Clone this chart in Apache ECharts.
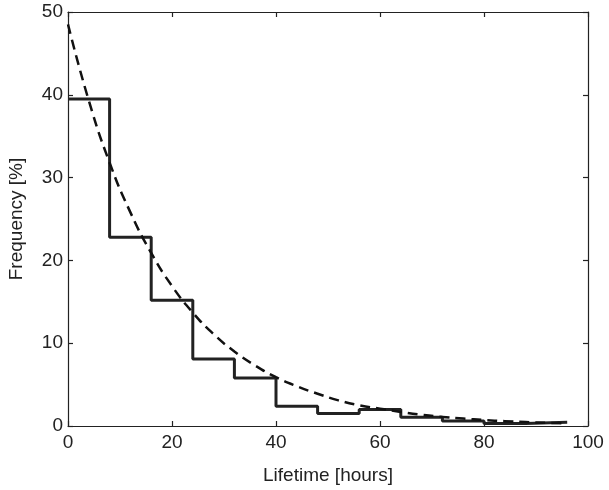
<!DOCTYPE html>
<html style="height: 100%">
<head>
<meta charset="UTF-8">
<script type="text/javascript" src="https://cdn.jsdelivr.net/npm/echarts@6/dist/echarts.min.js"></script>
<title>Lifetime histogram</title>
<style>
  html, body { margin: 0; padding: 0; background: #fff; }
  #chart { width: 609px; height: 490px; }
</style>
</head>
<body>
<div id="chart"></div>
<script type="text/javascript">
// bin edges (hours) and histogram heights (%)
var binEdges = [0, 8, 16, 24, 32, 40, 48, 56, 64, 72, 80, 88, 96];
var binFreq = [39.5, 22.8, 15.2, 8.1, 5.8, 2.4, 1.5, 2.0, 1.05, 0.6, 0.3, 0.45];
// dashed fit curve
var fitX = [0, 4, 8, 12, 16, 20, 24, 28, 32, 36, 40, 44, 48, 52, 56, 60, 64, 68, 72, 76, 80, 84, 88, 92, 96];
var fitY = [48.5, 39.3, 31.8, 25.8, 20.9, 16.9, 13.7, 11.1, 9.0, 7.3, 5.9, 4.8, 3.9, 3.1, 2.5, 2.1, 1.7, 1.35, 1.1, 0.9, 0.72, 0.58, 0.47, 0.38, 0.31];
var xTicks = [0, 20, 40, 60, 80, 100];
var yTicks = [0, 10, 20, 30, 40, 50];

var stepData = [];
for (var i = 0; i < binFreq.length; i++) {
    stepData.push([binEdges[i], binFreq[i]]);
}
stepData.push([binEdges[binEdges.length - 1], binFreq[binFreq.length - 1]]);

var fitData = [];
for (var j = 0; j < fitX.length; j++) {
    fitData.push([fitX[j], fitY[j]]);
}

var font = 'Liberation Sans, Arial, sans-serif';
var lineStyle = { color: '#222', width: 1.2 };

var myChart = echarts.init(document.getElementById('chart'));
var option = {
    animation: false,
    grid: { left: 68, right: 21, top: 12, bottom: 64, show: false, containLabel: false, outerBoundsMode: 'none' },
    xAxis: [{
        type: 'value', position: 'bottom',
        min: xTicks[0], max: xTicks[xTicks.length - 1], interval: 20,
        name: 'Lifetime [hours]', nameLocation: 'middle', nameGap: 40,
        nameTextStyle: { fontFamily: font, fontSize: 19, color: '#222' },
        axisLine: { show: true, onZero: false, lineStyle: lineStyle },
        axisTick: { show: true, inside: true, length: 5, lineStyle: lineStyle },
        axisLabel: { fontFamily: font, fontSize: 19, color: '#222', margin: 7 },
        splitLine: { show: false }
    }, {
        type: 'value', position: 'top',
        min: xTicks[0], max: xTicks[xTicks.length - 1], interval: 20,
        axisLine: { show: true, onZero: false, lineStyle: lineStyle },
        axisTick: { show: true, inside: true, length: 5, lineStyle: lineStyle },
        axisLabel: { show: false },
        splitLine: { show: false }
    }],
    yAxis: [{
        type: 'value', position: 'left',
        min: yTicks[0], max: yTicks[yTicks.length - 1], interval: 10,
        name: 'Frequency [%]', nameLocation: 'middle', nameGap: 42,
        nameTextStyle: { fontFamily: font, fontSize: 19, color: '#222' },
        axisLine: { show: true, onZero: false, lineStyle: lineStyle },
        axisTick: { show: true, inside: true, length: 5, lineStyle: lineStyle },
        axisLabel: { fontFamily: font, fontSize: 19, color: '#222', margin: 5 },
        splitLine: { show: false }
    }, {
        type: 'value', position: 'right',
        min: yTicks[0], max: yTicks[yTicks.length - 1], interval: 10,
        axisLine: { show: true, onZero: false, lineStyle: lineStyle },
        axisTick: { show: true, inside: true, length: 5, lineStyle: lineStyle },
        axisLabel: { show: false },
        splitLine: { show: false }
    }],
    series: [{
        name: 'histogram',
        type: 'line',
        step: 'end',
        data: stepData,
        showSymbol: false,
        lineStyle: { color: '#222', width: 3 },
        z: 3
    }, {
        name: 'fit',
        type: 'line',
        smooth: true,
        data: fitData,
        showSymbol: false,
        lineStyle: { color: '#111', width: 2.5, type: [10, 6] },
        z: 4
    }]
};
myChart.setOption(option);
</script>
</body>
</html>
